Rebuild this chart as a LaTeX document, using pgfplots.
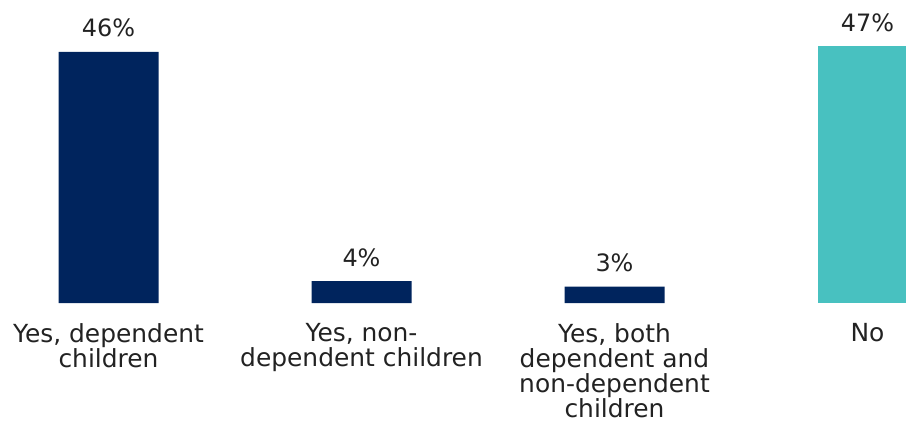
\documentclass[border=0pt]{standalone}
\usepackage{pgfplots}
\pgfplotsset{compat=1.18}
\usepackage{fontspec}
\setmainfont{DejaVu Sans}
\definecolor{navy}{HTML}{00245D}
\definecolor{teal2}{HTML}{48C1C0}
\definecolor{txt}{HTML}{222222}
\begin{document}
\begin{tikzpicture}
\begin{axis}[
  scale only axis,
  width=906bp, height=303bp,
  xmin=-0.4289, xmax=3.1522,
  ymin=0, ymax=55.5,
  axis line style={draw=none},
  ytick=\empty,
  xtick={0,1,2,3},
  xticklabels={{Yes, dependent\\children},{Yes, non-\\dependent children},{Yes, both\\dependent and\\non-dependent\\children},{No}},
  xtick style={draw=none},
  major tick length=0pt,
  xticklabel style={align=center, font=\fontsize{25}{25.2}\selectfont, text=txt, yshift=-17bp},
  ybar, bar width=100bp, bar shift=0pt,
  /pgf/number format/assume math mode=true,
  nodes near coords={\pgfmathprintnumber{\pgfplotspointmeta}\%},
  nodes near coords style={font=\fontsize{24}{28}\selectfont, text=txt, anchor=base, yshift=15bp},
]
\addplot[fill=navy, draw=none] coordinates {(0,46) (1,4) (2,3)};
\addplot[fill=teal2, draw=none] coordinates {(3,47)};
\end{axis}
\pgfresetboundingbox
\path[use as bounding box] (current axis.south west) ++(0,-127bp) rectangle (current axis.north east);
\end{tikzpicture}
\end{document}
